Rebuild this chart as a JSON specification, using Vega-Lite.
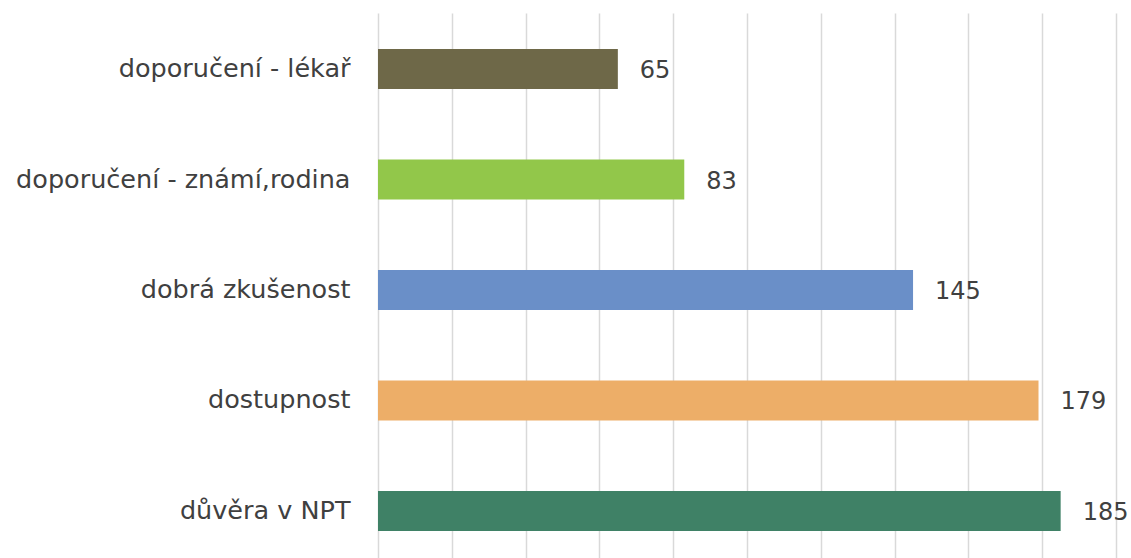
{
  "$schema": "https://vega.github.io/schema/vega-lite/v6.json",
  "width": 738,
  "height": 554,
  "autosize": {"type": "none"},
  "padding": {"left": 378, "top": 13, "right": 15, "bottom": 0},
  "background": "white",
  "config": {"view": {"stroke": null}, "font": "DejaVu Sans"},
  "data": {"values": [
    {"kategorie": "doporučení - lékař", "pocet": 65},
    {"kategorie": "doporučení - známí,rodina", "pocet": 83},
    {"kategorie": "dobrá zkušenost", "pocet": 145},
    {"kategorie": "dostupnost", "pocet": 179},
    {"kategorie": "důvěra v NPT", "pocet": 185}
  ]},
  "encoding": {
    "y": {"field": "kategorie", "type": "nominal", "sort": null,
      "scale": {"paddingInner": 0.638, "paddingOuter": 0.326},
      "axis": {"title": null, "domain": false, "ticks": false, "labelPadding": 28, "labelFontSize": 25.5, "labelLimit": 0, "labelColor": "#404040", "labelFont": "DejaVu Sans", "labelFontWeight": "normal"}},
    "x": {"field": "pocet", "type": "quantitative",
      "scale": {"domain": [0, 200], "nice": false},
      "axis": {"title": null, "labels": false, "ticks": false, "domain": false, "values": [0,20,40,60,80,100,120,140,160,180,200], "gridColor": "#d9d9d9", "gridWidth": 1.5}}
  },
  "layer": [
    {"mark": {"type": "bar"},
     "encoding": {"color": {"field": "kategorie", "type": "nominal", "legend": null,
       "scale": {"domain": ["doporučení - lékař", "doporučení - známí,rodina", "dobrá zkušenost", "dostupnost", "důvěra v NPT"],
                 "range": ["#6e6848", "#92c74a", "#6a8fc8", "#edae68", "#3f8166"]}}}},
    {"mark": {"type": "text", "align": "left", "baseline": "middle", "dx": 22, "dy": 2, "fontSize": 24, "color": "#404040"},
     "encoding": {"text": {"field": "pocet", "type": "quantitative"}}}
  ]
}
